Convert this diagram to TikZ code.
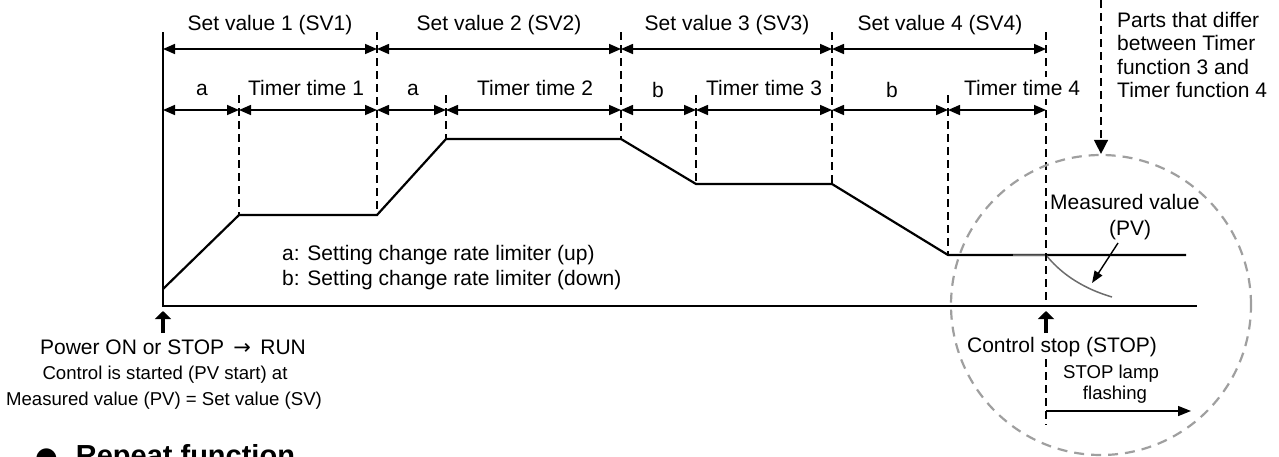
\documentclass[tikz,border=0pt]{standalone}
\usepackage{fontspec}
\setmainfont{Liberation Sans}
\newfontfamily\dejavu{DejaVu Sans}
\usetikzlibrary{arrows.meta}
\tikzset{
  big/.style={font=\fontsize{21}{24}\selectfont, inner sep=0pt},
  small/.style={font=\fontsize{18.6}{22}\selectfont, inner sep=0pt},
  dim/.style={line width=1.6pt, {Triangle[length=12pt,width=10pt]}-{Triangle[length=12pt,width=10pt]}},
  dsh/.style={line width=1.4pt, dash pattern=on 8pt off 5pt},
  prof/.style={line width=2.2pt, line join=miter},
  axis/.style={line width=1.8pt},
  uparr/.style={line width=3.5pt, -{Triangle[length=8pt,width=16pt]}},
}
\begin{document}
\begin{tikzpicture}[x=1pt,y=-1pt]
\useasboundingbox (0,0) rectangle (1279,456);
\clip (0,0) rectangle (1279,456);
% coordinates of profile
\coordinate (p0) at (163,289);
\coordinate (p1) at (239,215);
\coordinate (p2) at (377,215);
\coordinate (p3) at (446,139);
\coordinate (p4) at (621,139);
\coordinate (p5) at (696,184);
\coordinate (p6) at (832,184);
\coordinate (p7) at (948,255);
\coordinate (p8) at (1046,255);
\coordinate (p9) at (1186,255);
% axes
\coordinate (ax0) at (163,32);
\coordinate (org) at (163,306);
\coordinate (axe) at (1197,306);
\draw[axis] (ax0) -- (org) -- (axe);
% profile
\draw[prof] (p0) -- (p1) -- (p2) -- (p3) -- (p4) -- (p5) -- (p6) -- (p7) -- (p9);
% PV curve
\draw[line width=1.5pt, gray!85!black] (1013,255) -- (p8) .. controls (1058,270) and (1078,287) .. (1112,297) coordinate (pvend);
% dashed verticals
\coordinate (d1t) at (239,95);
\coordinate (d2t) at (377,32);
\coordinate (d3t) at (446,95);
\coordinate (d4t) at (621,32);
\coordinate (d5t) at (696,95);
\coordinate (d6t) at (832,32);
\coordinate (d7t) at (948,95);
\coordinate (d8t) at (1046,32);
\coordinate (d8b) at (1046,307);
\draw[dsh] (d1t) -- (p1);
\draw[dsh] (d2t) -- (p2);
\draw[dsh] (d3t) -- (p3);
\draw[dsh] (d4t) -- (p4);
\draw[dsh] (d5t) -- (p5);
\draw[dsh] (d6t) -- (p6);
\draw[dsh] (d7t) -- (p7);
\draw[dsh] (d8t) -- (d8b);
% SV dimension arrows
\draw[dim] (163,49) -- (377,49);
\draw[dim] (377,49) -- (621,49);
\draw[dim] (621,49) -- (832,49);
\draw[dim] (832,49) -- (1046,49);
% timer arrows
\draw[dim] (163,110) -- (239,110);
\draw[dim] (239,110) -- (377,110);
\draw[dim] (377,110) -- (446,110);
\draw[dim] (446,110) -- (621,110);
\draw[dim] (621,110) -- (696,110);
\draw[dim] (696,110) -- (832,110);
\draw[dim] (832,110) -- (948,110);
\draw[dim] (948,110) -- (1046,110);
% SV labels
\node[big] (sv1) at (270,25) {Set value 1 (SV1)};
\node[big] (sv2) at (499,25) {Set value 2 (SV2)};
\node[big] (sv3) at (727,25) {Set value 3 (SV3)};
\node[big] (sv4) at (940,25) {Set value 4 (SV4)};
\node[big] (la1) at (202,90) {a};
\node[big] (tt1) at (306,88) {Timer time 1};
\node[big] (la2) at (413,90) {a};
\node[big] (tt2) at (535,88) {Timer time 2};
\node[big] (lb3) at (658,90) {b};
\node[big] (tt3) at (764,88) {Timer time 3};
\node[big] (lb4) at (892,90) {b};
\node[big, fill=white, inner ysep=3pt] (tt4) at (1022,88) {Timer time 4};
% legend
\node[big, anchor=west] (lega) at (282,255) {a: Setting change rate limiter (up)};
\node[big, anchor=west] (legb) at (282,280) {b: Setting change rate limiter (down)};
% start arrow and text
\coordinate (ua0) at (163,333);
\coordinate (ua1) at (163,311);
\draw[uparr] (ua0) -- (ua1);
\node[big] (pwr) at (173,347) {Power ON or STOP \,{\dejavu →}\, RUN};
\node[small] (cst) at (165,375) {Control is started (PV start) at};
\node[small] (mvs) at (164,401) {Measured value (PV) = Set value (SV)};
% stop arrow and text
\coordinate (sa0) at (1046,333);
\coordinate (sa1) at (1046,311);
\draw[uparr] (sa0) -- (sa1);
\node[big] (cstop) at (1062,347) {Control stop (STOP)};
\coordinate (d9t) at (1046,359);
\coordinate (d9b) at (1046,425);
\draw[dsh] (d9t) -- (d9b);
\coordinate (fl0) at (1046,411);
\coordinate (fl1) at (1191,411);
\draw[line width=1.4pt, -{Triangle[length=13pt,width=10pt]}] (fl0) -- (fl1);
\node[small] (lamp1) at (1111,374) {STOP lamp};
\node[small] (lamp2) at (1115,395) {flashing};
% circle
\node[draw=gray!75, line width=2.2pt, dash pattern=on 10pt off 7pt, circle, minimum size=300pt, inner sep=0pt] (circ) at (1101,305) {};
% measured value label
\node[big, anchor=west] (mv) at (1050,202) {Measured value};
\node[big] (pv) at (1130,230) {(PV)};
\coordinate (pva) at (1118,243);
\coordinate (pvb) at (1092,283);
\draw[line width=1.4pt, -{Triangle[length=12pt,width=9pt]}] (pva) -- (pvb);
% top note
\coordinate (nt) at (1101,0);
\draw[dsh, -{Triangle[length=14pt,width=14pt]}] (nt) -- (circ.north);
\node[big, anchor=north west, align=left, inner sep=0pt] (note) at (1117,12) {Parts that differ\\[-0.6pt]between Timer\\[-0.6pt]function 3 and\\[-0.6pt]Timer function 4};
% heading
\node[font=\fontsize{29}{32}\selectfont\bfseries, anchor=base west, inner sep=0pt] (rep) at (35,465) {{\dejavu\fontsize{26}{30}\selectfont ●}\hspace{18pt}Repeat function};
\end{tikzpicture}
\end{document}
